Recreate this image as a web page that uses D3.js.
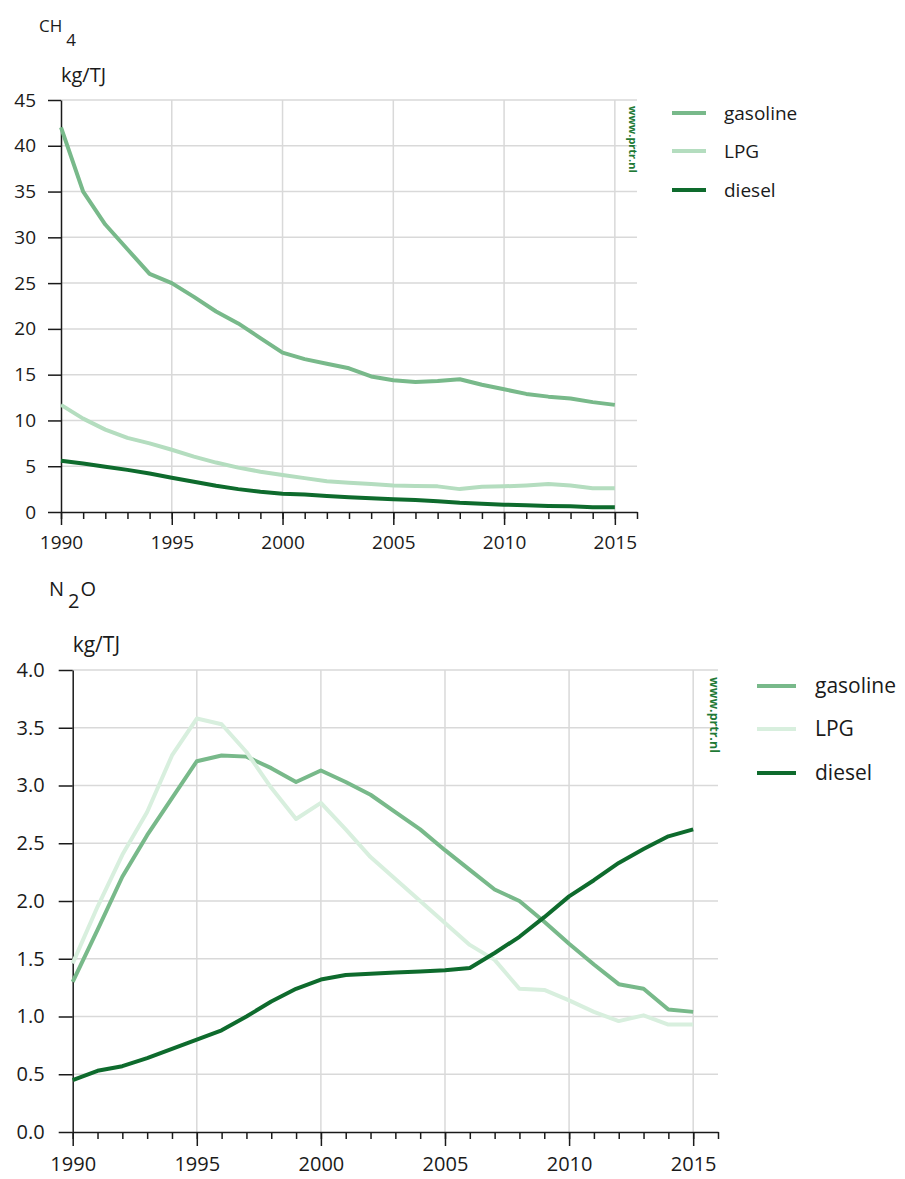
<!DOCTYPE html>
<html>
<head>
<meta charset="utf-8">
<script src="https://cdn.jsdelivr.net/npm/d3@7"></script>
<style>
  body { margin: 0; background: #fff; }
  text { font-family: "Open Sans", sans-serif; fill: #1a1a1a; }
</style>
</head>
<body>
<div id="chart"></div>
<script>
var years = d3.range(1990, 2016);
var seriesNames = ["gasoline", "LPG", "diesel"];

// CH4, kg/TJ
var ch4Gasoline = [42.0, 35.0, 31.4, 28.7, 26.0, 25.0, 23.5, 21.9, 20.6, 19.0, 17.4, 16.7, 16.2, 15.7, 14.8, 14.4, 14.2, 14.3, 14.5, 13.9, 13.4, 12.9, 12.6, 12.4, 12.0, 11.7];
var ch4LPG      = [11.7, 10.2, 9.0, 8.1, 7.5, 6.8, 6.05, 5.4, 4.85, 4.4, 4.05, 3.7, 3.35, 3.2, 3.05, 2.9, 2.85, 2.8, 2.5, 2.75, 2.8, 2.9, 3.05, 2.9, 2.6, 2.6];
var ch4Diesel   = [5.6, 5.3, 4.95, 4.6, 4.2, 3.75, 3.3, 2.87, 2.5, 2.2, 2.0, 1.9, 1.75, 1.6, 1.5, 1.4, 1.3, 1.17, 1.0, 0.9, 0.8, 0.73, 0.66, 0.62, 0.52, 0.52];

// N2O, kg/TJ
var n2oGasoline = [1.30, 1.75, 2.21, 2.57, 2.89, 3.21, 3.26, 3.25, 3.15, 3.03, 3.13, 3.03, 2.92, 2.77, 2.62, 2.44, 2.27, 2.10, 2.00, 1.82, 1.63, 1.45, 1.28, 1.24, 1.06, 1.04];
var n2oLPG      = [1.46, 1.95, 2.40, 2.77, 3.26, 3.58, 3.53, 3.29, 2.98, 2.71, 2.85, 2.62, 2.38, 2.19, 2.00, 1.81, 1.62, 1.49, 1.24, 1.23, 1.14, 1.04, 0.96, 1.01, 0.93, 0.93];
var n2oDiesel   = [0.45, 0.53, 0.57, 0.64, 0.72, 0.80, 0.88, 1.00, 1.13, 1.24, 1.32, 1.36, 1.37, 1.38, 1.39, 1.40, 1.42, 1.55, 1.69, 1.86, 2.04, 2.18, 2.33, 2.45, 2.56, 2.62];

var ch4Ticks = d3.range(0, 46, 5);
var n2oTicks = d3.range(0, 4.01, 0.5);
var yearLabels = [1990, 1995, 2000, 2005, 2010, 2015];

var svg = d3.select("#chart").append("svg")
  .attr("width", 905)
  .attr("height", 1179);

function drawChart(opt) {
  var g = svg.append("g");

  var x = d3.scaleLinear().domain([1990, 2016]).range([opt.left, opt.right]);
  var y = d3.scaleLinear().domain([0, opt.ymax]).range([opt.bottom, opt.top]);

  // gridlines
  g.append("g").selectAll("line.h")
    .data(opt.yticks.slice(1))
    .join("line")
    .attr("x1", opt.left).attr("x2", opt.right)
    .attr("y1", function(d) { return y(d); }).attr("y2", function(d) { return y(d); })
    .attr("stroke", "#d9d9d9").attr("stroke-width", 1.5);

  g.append("g").selectAll("line.v")
    .data(yearLabels.slice(1))
    .join("line")
    .attr("x1", function(d) { return x(d); }).attr("x2", function(d) { return x(d); })
    .attr("y1", opt.top).attr("y2", opt.bottom)
    .attr("stroke", "#d9d9d9").attr("stroke-width", 1.5);

  // minor year ticks
  g.append("g")
    .attr("transform", "translate(0," + opt.bottom + ")")
    .call(d3.axisBottom(x).tickValues(d3.range(1990, 2017)).tickSize(opt.minor).tickSizeOuter(0).tickFormat(""))
    .call(function(a) { a.select(".domain").remove(); })
    .selectAll("line").attr("stroke", "#1a1a1a").attr("stroke-width", 1.5);

  // major ticks + labels
  var xAxis = g.append("g")
    .attr("transform", "translate(0," + opt.bottom + ")")
    .call(d3.axisBottom(x).tickValues(yearLabels).tickSize(opt.major).tickPadding(opt.xpad).tickSizeOuter(0).tickFormat(d3.format("d")));
  xAxis.select(".domain").attr("stroke", "#1a1a1a").attr("stroke-width", 1.5);
  xAxis.selectAll("line").attr("stroke", "#1a1a1a").attr("stroke-width", 1.5);
  xAxis.selectAll("text").style("font-size", opt.fs + "px").attr("fill", "#1a1a1a");

  var yAxis = g.append("g")
    .attr("transform", "translate(" + opt.left + ",0)")
    .call(d3.axisLeft(y).tickValues(opt.yticks).tickSize(opt.major).tickPadding(opt.ypad).tickSizeOuter(0).tickFormat(opt.yfmt));
  yAxis.select(".domain").attr("stroke", "#1a1a1a").attr("stroke-width", 1.5);
  yAxis.selectAll("line").attr("stroke", "#1a1a1a").attr("stroke-width", 1.5);
  yAxis.selectAll("text").style("font-size", opt.fs + "px").attr("fill", "#1a1a1a");

  // lines
  var line = d3.line()
    .x(function(d, i) { return x(years[i]); })
    .y(function(d) { return y(d); });

  opt.series.forEach(function(s, i) {
    g.append("path")
      .datum(s)
      .attr("fill", "none")
      .attr("stroke", opt.colors[i])
      .attr("stroke-width", opt.lw)
      .attr("stroke-linejoin", "round")
      .attr("d", line);
  });

  // title with subscript
  var t = g.append("text")
    .attr("x", opt.titleX).attr("y", opt.titleY)
    .style("font-size", opt.titleFs + "px");
  opt.title.forEach(function(p) {
    t.append("tspan")
      .attr("dy", p.sub ? opt.subShift : (p.back ? -opt.subShift : 0))
      .attr("dx", p.sub ? 4 : (p.back ? 1 : 0))
      .text(p.text);
  });

  g.append("text")
    .attr("x", opt.left).attr("y", opt.unitY)
    .style("font-size", opt.unitFs + "px")
    .text("kg/TJ");

  // watermark
  g.append("text")
    .attr("transform", "translate(" + opt.wmX + "," + opt.wmY + ") rotate(90)")
    .style("font-size", opt.wmFs + "px")
    .style("font-weight", "bold")
    .style("fill", "#1f7a36")
    .text("www.prtr.nl");

  // legend
  var leg = g.append("g");
  seriesNames.forEach(function(name, i) {
    var ly = opt.legY[i];
    leg.append("line")
      .attr("x1", opt.legX).attr("x2", opt.legX + opt.legW)
      .attr("y1", ly).attr("y2", ly)
      .attr("stroke", opt.colors[i]).attr("stroke-width", opt.lw);
    leg.append("text")
      .attr("x", opt.legX + opt.legW + opt.legGap).attr("y", ly)
      .attr("dy", "0.35em")
      .style("font-size", opt.legFs + "px")
      .text(name);
  });
}

drawChart({
  left: 61, right: 637, top: 100, bottom: 512,
  ymax: 45, yticks: ch4Ticks, yfmt: d3.format("d"),
  minor: 7, major: 13, xpad: 11, ypad: 12, fs: 19,
  series: [ch4Gasoline, ch4LPG, ch4Diesel],
  colors: ["#78b98a", "#b4ddbf", "#0e6b2d"], lw: 4,
  title: [{text: "CH"}, {text: "4", sub: true}],
  titleX: 39, titleY: 32, titleFs: 17, subShift: 14,
  unitY: 82, unitFs: 20,
  wmX: 629, wmY: 106, wmFs: 11,
  legX: 672, legW: 34, legGap: 18, legY: [113, 151, 190], legFs: 19
});

drawChart({
  left: 72.7, right: 718, top: 670, bottom: 1132,
  ymax: 4, yticks: n2oTicks, yfmt: d3.format(".1f"),
  minor: 7, major: 14, xpad: 11, ypad: 14, fs: 20,
  series: [n2oGasoline, n2oLPG, n2oDiesel],
  colors: ["#78b98a", "#d8efde", "#0e6b2d"], lw: 4,
  title: [{text: "N"}, {text: "2", sub: true}, {text: "O", back: true}],
  titleX: 49, titleY: 596, titleFs: 20, subShift: 12,
  unitY: 652, unitFs: 21,
  wmX: 710, wmY: 677, wmFs: 12.5,
  legX: 757, legW: 39, legGap: 19, legY: [686, 729, 773], legFs: 21
});
</script>
</body>
</html>
